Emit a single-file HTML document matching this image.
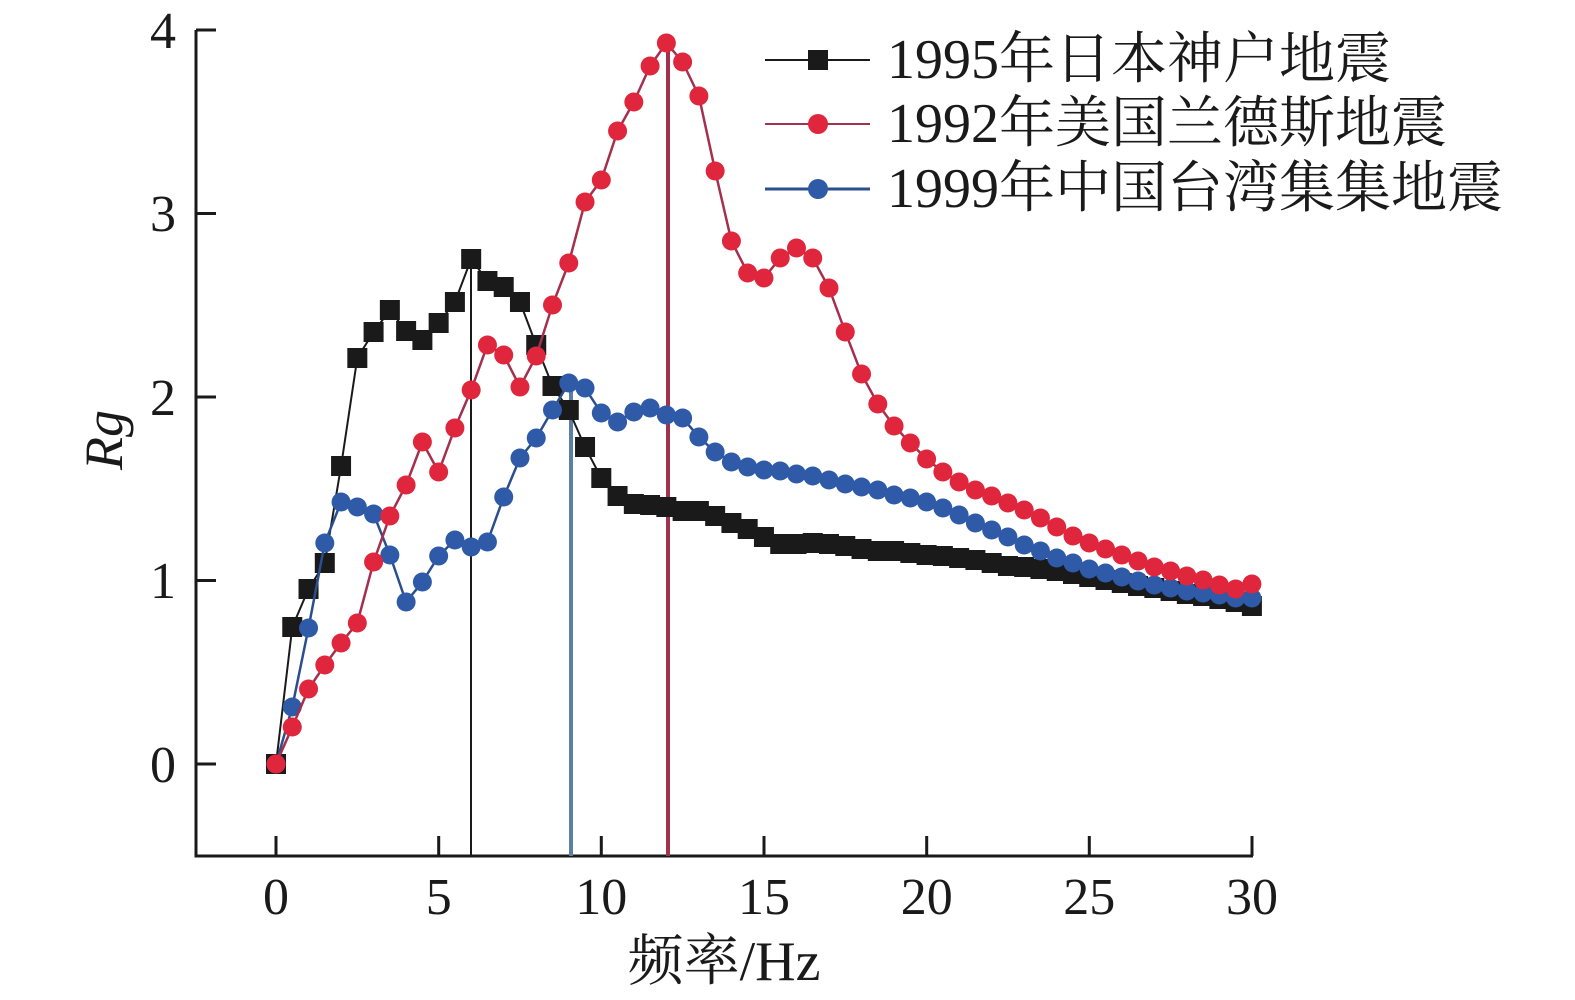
<!DOCTYPE html>
<html><head><meta charset="utf-8"><style>
html,body{margin:0;padding:0;background:#fff;}
svg{display:block;}
text{font-family:"Liberation Serif","Noto Serif CJK SC",serif;fill:#1a1a1a;}
</style></head><body>
<svg id="s" width="1575" height="1000" xmlns="http://www.w3.org/2000/svg">
<g stroke="#1a1a1a" stroke-width="3" fill="none">
<path d="M196,30 V856 H1253"/>
<path d="M196,30 h20 M196,213.5 h20 M196,397 h20 M196,580.5 h20 M196,764 h20"/>
<path d="M276,856 v-20 M438.7,856 v-20 M601.3,856 v-20 M764,856 v-20 M926.7,856 v-20 M1089.3,856 v-20 M1252,856 v-20"/>
</g>
<g font-size="52" text-anchor="end">
<text x="176" y="48">4</text><text x="176" y="231">3</text><text x="176" y="415">2</text><text x="176" y="598">1</text><text x="176" y="782">0</text>
</g>
<g font-size="52" text-anchor="middle">
<text x="276" y="914">0</text><text x="438.7" y="914">5</text><text x="601.3" y="914">10</text><text x="764" y="914">15</text><text x="926.7" y="914">20</text><text x="1089.3" y="914">25</text><text x="1252" y="914">30</text>
<text x="724" y="980" font-size="56">频率/Hz</text>
</g>
<text transform="translate(122,440) rotate(-90)" font-size="54" font-style="italic" text-anchor="middle">Rg</text>
<line x1="471" y1="259" x2="471" y2="856" stroke="#1a1a1a" stroke-width="2"/>
<line x1="571" y1="383" x2="571" y2="856" stroke="#5b7fa6" stroke-width="4"/>
<line x1="668" y1="43" x2="668" y2="856" stroke="#a3304c" stroke-width="4"/>
<g id="d"></g>
<g font-size="56">
<line x1="765" y1="60" x2="870" y2="60" stroke="#1a1a1a" stroke-width="2"/><rect x="808" y="50" width="20" height="20" fill="#1a1a1a"/>
<text x="887" y="78">1995年日本神户地震</text>
<line x1="765" y1="124" x2="870" y2="124" stroke="#a3304c" stroke-width="2"/><circle cx="818" cy="124" r="10" fill="#e0263c"/>
<text x="887" y="142">1992年美国兰德斯地震</text>
<line x1="765" y1="189" x2="870" y2="189" stroke="#2a4f8e" stroke-width="3"/><circle cx="818" cy="189" r="10" fill="#2e5aa8"/>
<text x="887" y="207">1999年中国台湾集集地震</text>
</g>
</svg>
<script>
var K=[764,627,589,563,466,358,332,310,331,340,323,302,259,281,287,302,345,386,410,447,478,496,504,505,507,511,511,516,523,529,537,544,544,543,544,546,549,551,551,553,555,556,558,560,563,566,567,569,571,574,577,580,583,586,588,591,594,596,599,602,606];
var R=[764,727,689,665,643,623,562,516,485,442,472,428,390,345,355,387,356,305,263,202,180,131,102,66,43,62,96,171,241,273,278,258,248,258,288,332,374,404,426,443,459,472,482,490,496,503,510,518,527,536,543,549,555,561,567,571,576,580,585,589,584];
var B=[764,707,628,543,502,507,514,555,602,582,556,540,547,542,497,458,438,410,383,388,413,422,412,408,415,418,437,452,462,467,470,471,474,476,480,484,487,490,495,498,502,508,515,523,530,537,545,551,558,563,569,573,577,581,585,588,591,593,595,598,598];
var g=document.getElementById('d'),h='';
function X(i){return 276+32.53*i*0.5;}
function ser(a,lc,lw,mk){var p='';a.forEach(function(y,i){p+=(i?'L':'M')+X(i).toFixed(1)+','+y;});
h+='<path d="'+p+'" fill="none" stroke="'+lc+'" stroke-width="'+lw+'"/>';
a.forEach(function(y,i){h+=mk(X(i),y);});}
ser(K,'#1a1a1a',2,function(x,y){return '<rect x="'+(x-10)+'" y="'+(y-10)+'" width="20" height="20" fill="#1a1a1a"/>';});
ser(B,'#2a4f8e',2.5,function(x,y){return '<circle cx="'+x+'" cy="'+y+'" r="9.5" fill="#2e5aa8"/>';});
ser(R,'#a3304c',2.5,function(x,y){return '<circle cx="'+x+'" cy="'+y+'" r="9.5" fill="#e0263c"/>';});
g.innerHTML=h;
</script>
</body></html>
